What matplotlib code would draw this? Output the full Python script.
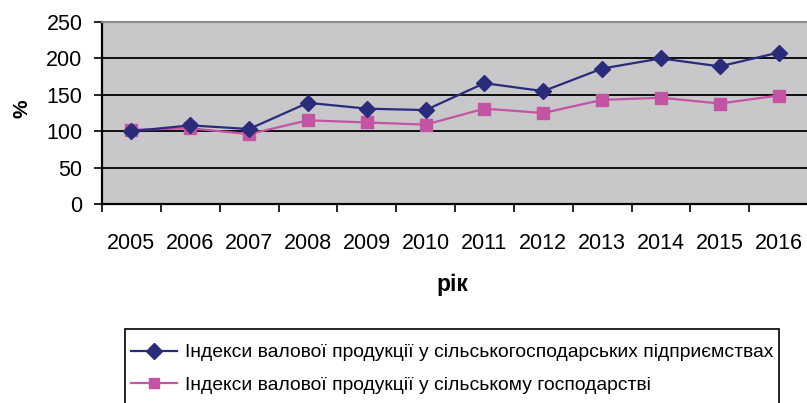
import matplotlib
matplotlib.use("Agg")
import matplotlib.pyplot as plt
from matplotlib.patches import Rectangle

years = ["2005", "2006", "2007", "2008", "2009", "2010", "2011", "2012", "2013", "2014", "2015", "2016"]
enterprises = [100, 108, 103, 139, 131, 129, 166, 155, 186, 200, 189, 208]
agriculture = [102, 104, 96, 115, 112, 109, 131, 125, 143, 146, 138, 149]
label_ent = "Індекси валової продукції у сільськогосподарських підприємствах"
label_agr = "Індекси валової продукції у сільському господарстві"
y_ticks = [0, 50, 100, 150, 200, 250]

plt.rcParams['font.family'] = ['Liberation Sans', 'DejaVu Sans']

W, H = 807, 403
fig = plt.figure(figsize=(W / 100, H / 100), dpi=100)
ax = fig.add_axes([102 / W, 1 - 204 / H, 706 / W, 182 / H])
ax.set_facecolor('#c8c8ca')

x = list(range(len(years)))
ax.plot(x, enterprises, color='#2b2b7c', lw=1.6, marker='D', ms=8.5,
        label=label_ent, zorder=4)
ax.plot(x, agriculture, color='#c354a4', lw=1.6, marker='s', ms=8.5,
        label=label_agr, zorder=3)

ax.set_xlim(-0.5, len(years) - 0.5)
ax.set_ylim(0, 250)
ax.set_yticks(y_ticks)
ax.set_yticklabels([str(v) for v in y_ticks], fontsize=15.5)
ax.yaxis.grid(True, color='black', lw=1.3)
ax.set_axisbelow(True)

ax.set_xticks([i - 0.5 for i in range(len(years) + 1)])
ax.set_xticklabels([])
ax.set_xticks(x, minor=True)
ax.set_xticklabels(years, minor=True, fontsize=15.5)
ax.tick_params(axis='x', which='major', length=6, width=1.2, direction='out')
ax.tick_params(axis='x', which='minor', length=0, pad=21)
ax.tick_params(axis='y', length=6, width=1.2, pad=8)

for s in ['left', 'bottom']:
    ax.spines[s].set_linewidth(1.6)
    ax.spines[s].set_color('black')
ax.spines['top'].set_color('#8a8a8a')
ax.spines['top'].set_linewidth(1.5)
ax.spines['right'].set_visible(False)

fig.text(22 / W, 1 - 109 / H, '%', fontsize=15, fontweight='bold',
         rotation=90, ha='center', va='center')
fig.text(452 / W, 1 - 284 / H, 'рік', fontsize=16.5, fontweight='bold',
         ha='center', va='center')

fig.patches.append(Rectangle((125 / W, 1 - 440 / H), 654 / W, 111 / H,
                             transform=fig.transFigure, fill=False,
                             edgecolor='black', lw=1.2))

# fit legend text width to the reference (about 585 px for the long label)
fs = 15.5
renderer = fig.canvas.get_renderer()
probe = fig.text(0, 0, label_ent, fontsize=fs)
w = probe.get_window_extent(renderer).width
probe.remove()
fs = fs * 585 / w
h, l = ax.get_legend_handles_labels()
fig.legend(h, l, loc='upper left', bbox_to_anchor=(131 / W, 1 - 344 / H),
           frameon=False, fontsize=fs, borderpad=0, borderaxespad=0,
           handlelength=46 / (fs * 1.389), handletextpad=8 / (fs * 1.389),
           labelspacing=(34 - fs * 1.389 * 1.0) / (fs * 1.389),
           markerscale=0.9)

fig.savefig('out.png', dpi=100)
